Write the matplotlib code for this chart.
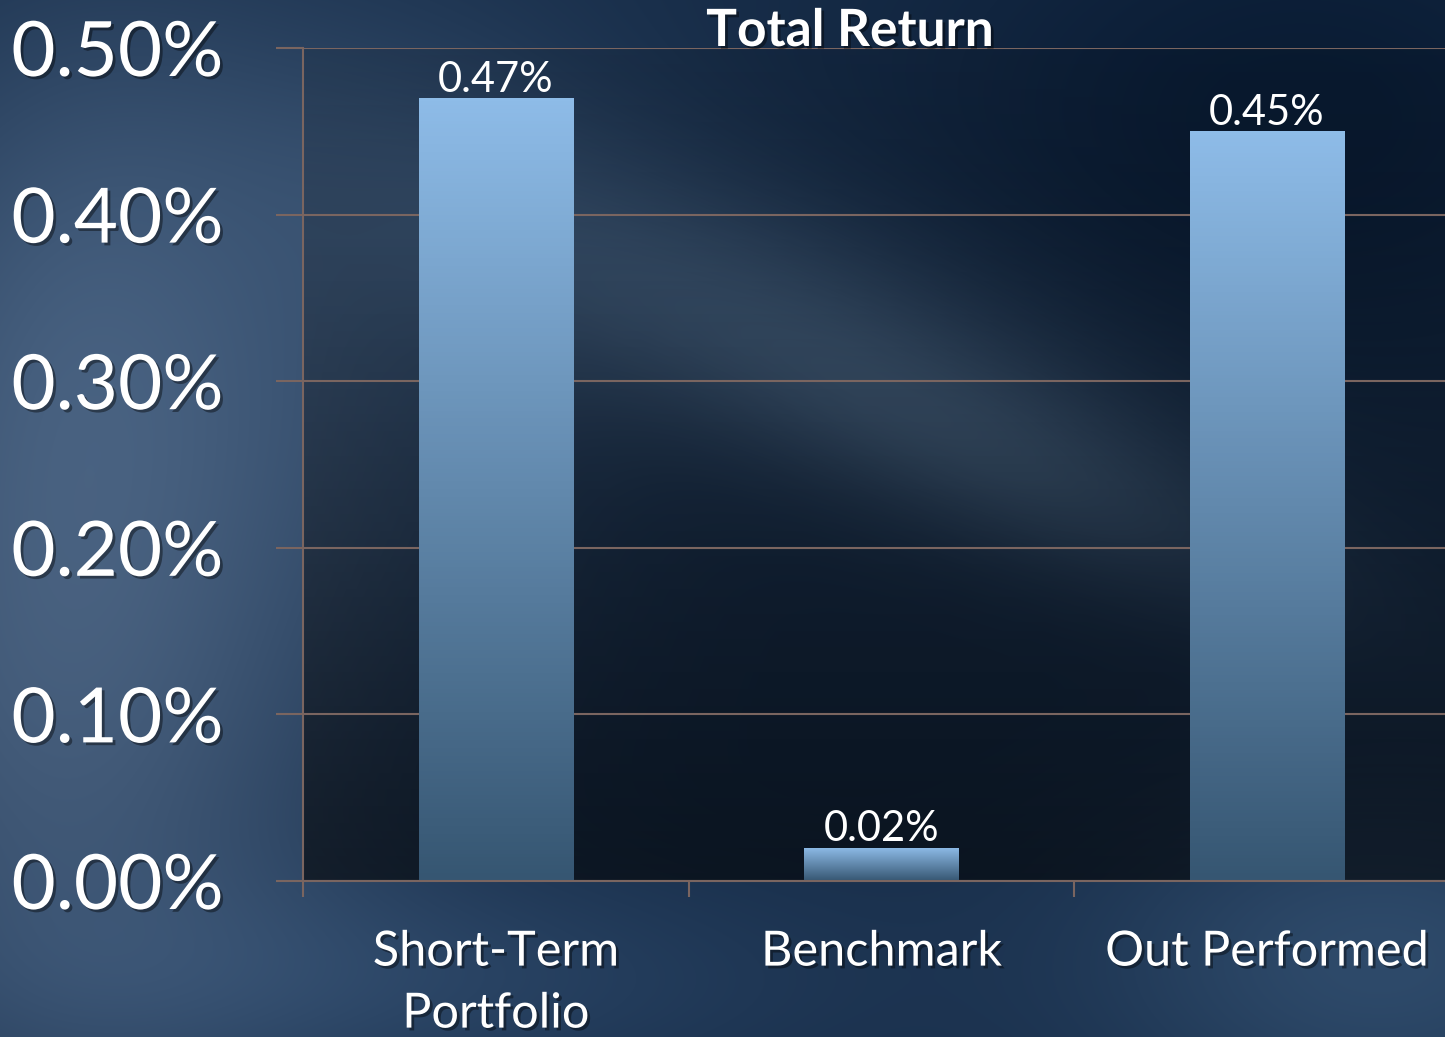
import numpy as np
import matplotlib.pyplot as plt
import matplotlib.patheffects as pe

categories = ['Short-Term\nPortfolio', 'Benchmark', 'Out Performed']
values = [0.47, 0.02, 0.45]
labels = ['0.47%', '0.02%', '0.45%']
yticks = [0.0, 0.1, 0.2, 0.3, 0.4, 0.5]
ytick_labels = ['0.00%', '0.10%', '0.20%', '0.30%', '0.40%', '0.50%']

W, H = 1445, 1037
GRID = '#7a6560'
FONT = 'Lato'

shadow = [pe.withSimplePatchShadow(offset=(2, -2), shadow_rgbFace='black', alpha=0.4)]

fig = plt.figure(figsize=(W / 100, H / 100), dpi=100)

# background: dark blue with lighter cloudy patches
yy, xx = np.mgrid[0:H, 0:W].astype(float)
bg = np.zeros((H, W, 3))
bg[:] = np.array([24, 46, 74])


def blob(cx, cy, sx, sy, col, ang=0.0):
    c, s = np.cos(ang), np.sin(ang)
    dx, dy = xx - cx, yy - cy
    u = dx * c + dy * s
    v = -dx * s + dy * c
    g = np.exp(-(u ** 2 / (2 * sx ** 2) + v ** 2 / (2 * sy ** 2)))
    return g[..., None] * np.array(col)


bg += blob(60, 650, 200, 330, [44, 46, 48])
bg += blob(100, 250, 160, 200, [18, 20, 22])
bg += blob(420, 350, 160, 250, [16, 18, 20])
bg += blob(780, 330, 280, 90, [34, 38, 40], ang=0.35)
bg += blob(1050, 480, 220, 60, [22, 25, 26], ang=0.4)
bg += blob(1300, 120, 300, 200, [-14, -18, -22])
bg += blob(1380, 960, 200, 120, [22, 28, 32])
bg += blob(400, 980, 300, 80, [14, 18, 22])
bg = np.clip(bg, 0, 255) / 255

bax = fig.add_axes([0, 0, 1, 1], zorder=-1)
bax.imshow(bg, aspect='auto', extent=[0, 1, 0, 1])
bax.axis('off')

ax = fig.add_axes([303 / W, (H - 881) / H, (1459.5 - 303) / W, (881 - 48) / H])
ax.patch.set_alpha(0)

# plot area darkening towards the bottom
shade = np.zeros((100, 2, 4))
shade[..., 3] = np.linspace(0.1, 0.58, 100)[:, None]
ax.imshow(shade, aspect='auto', extent=[-0.5, 2.5, 0, 0.5], origin='upper', zorder=0)

x = np.arange(len(categories))
bars = ax.bar(x, values, width=0.4, color='none', edgecolor='none', zorder=3)

top = np.array([142, 188, 232]) / 255
bot = np.array([54, 86, 114]) / 255
grad = np.linspace(0, 1, 200)[:, None, None]
grad_img = top * (1 - grad) + bot * grad
for b, lab in zip(bars, labels):
    x0, w, h = b.get_x(), b.get_width(), b.get_height()
    im = ax.imshow(grad_img, aspect='auto', extent=[x0, x0 + w, 0, h],
                   origin='upper', zorder=3)
    im.set_clip_path(b)
    ax.text(x0 + w / 2, h + 0.0038, lab, ha='center', va='baseline',
            color='white', fontsize=30, family=FONT, zorder=4)

ax.set_xlim(-0.5, 2.5)
ax.set_ylim(0, 0.5)

ax.set_yticks(yticks)
ax.set_yticklabels(ytick_labels, family=FONT, fontsize=55, color='white')
for t in ax.get_yticklabels():
    t.set_path_effects(shadow)
ax.tick_params(axis='y', length=19.5, width=1.5, color=GRID, pad=38)

ax.set_xticks(x)
ax.set_xticklabels(categories, family=FONT, fontsize=35, color='white', linespacing=1.5)
for t in ax.get_xticklabels():
    t.set_path_effects(shadow)
ax.tick_params(axis='x', which='major', length=0, pad=35)
ax.set_xticks([-0.5, 0.5, 1.5], minor=True)
ax.tick_params(axis='x', which='minor', length=11.5, width=1.5, color=GRID)

ax.grid(axis='y', color=GRID, linewidth=1.5)
ax.set_axisbelow(True)
for s in ['top', 'right']:
    ax.spines[s].set_visible(False)
for s in ['left', 'bottom']:
    ax.spines[s].set_color(GRID)
    ax.spines[s].set_linewidth(1.5)
    ax.spines[s].set_zorder(5)

fig.text(850 / W, 1 - 46 / H, 'Total Return', ha='center', va='baseline',
         color='white', fontsize=37, fontweight='bold', family=FONT, path_effects=shadow)

fig.savefig('out.png', dpi=100)
